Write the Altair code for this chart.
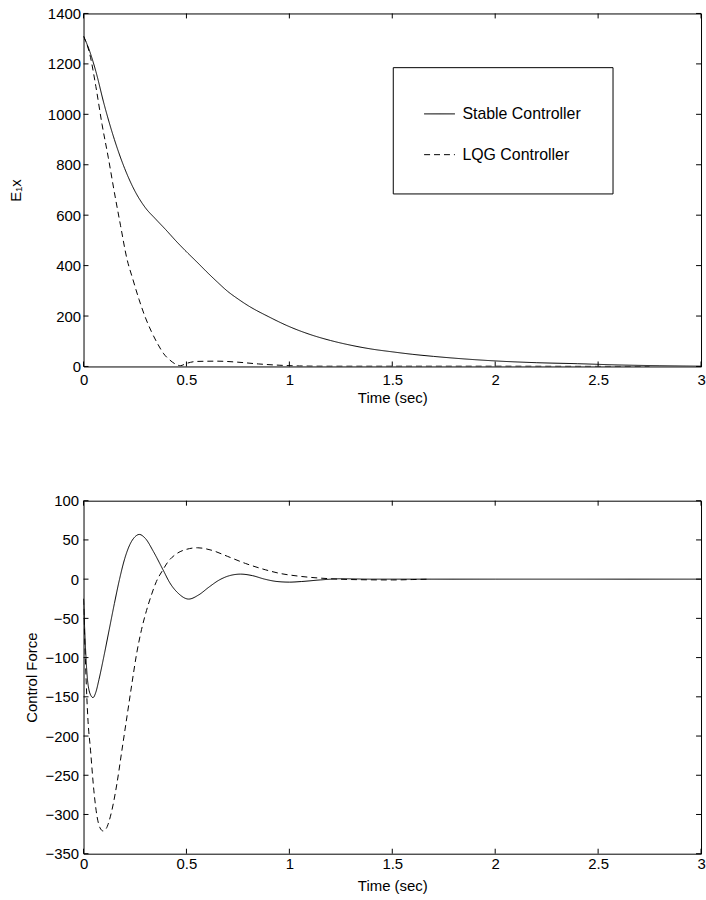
import altair as alt
import pandas as pd

FONT = "Liberation Sans"
SERIES = ["Stable Controller", "LQG Controller"]

# ---- top panel: E1x ----
top_stable_t = [0, 0.03, 0.06, 0.1, 0.15, 0.2, 0.25, 0.3, 0.35, 0.4, 0.45, 0.5, 0.55, 0.6, 0.65,
                0.7, 0.75, 0.8, 0.9, 1.0, 1.1, 1.2, 1.3, 1.4, 1.5, 1.6, 1.7, 1.8, 1.9, 2.0,
                2.2, 2.4, 2.6, 2.8, 3.0]
top_stable_v = [1310, 1250, 1170, 1040, 900, 785, 695, 630, 585, 542, 497, 455, 415, 374, 335,
                298, 268, 241, 197, 158, 127, 103, 84, 69, 58, 48, 40, 33, 27, 22,
                15, 11, 6, 3, 1]

top_lqg_t = [0, 0.03, 0.06, 0.09, 0.12, 0.15, 0.18, 0.21, 0.24, 0.27, 0.3, 0.33, 0.36, 0.39,
             0.42, 0.45, 0.47, 0.5, 0.55, 0.65, 0.75, 0.85, 0.95, 1.05, 1.2, 1.5, 2.0, 2.4, 2.75]
top_lqg_v = [1310, 1240, 1110, 960, 830, 690, 558, 430, 345, 265, 195, 138, 90, 50,
             25, 8, 3, 12, 20, 21, 17, 10, 5, 2, 1, 1, 1, 0.5, 0]

# ---- bottom panel: Control Force ----
bot_stable_t = [0, 0.01, 0.02, 0.035, 0.046, 0.06, 0.075, 0.1, 0.125, 0.15, 0.175, 0.2, 0.225,
                0.25, 0.271, 0.3, 0.34, 0.386, 0.42, 0.46, 0.511, 0.56, 0.61, 0.66, 0.71, 0.763,
                0.82, 0.88, 0.94, 1.0, 1.06, 1.15, 1.25, 1.4, 2.0, 3.0]
bot_stable_v = [-25, -90, -130, -148, -151, -144, -128, -97, -64, -31, 0, 26, 44,
                54, 57, 52, 35, 12, -5, -18, -25.4, -20, -10, -1, 4.5, 6.4,
                4.5, 0, -3, -3.8, -3, -1, 0.5, 0, 0, 0]

bot_lqg_t = [0, 0.01, 0.021, 0.034, 0.05, 0.066, 0.08, 0.095, 0.11, 0.13, 0.162, 0.186, 0.21,
             0.234, 0.258, 0.282, 0.306, 0.33, 0.354, 0.386, 0.41, 0.45, 0.5, 0.554, 0.62,
             0.7, 0.787, 0.883, 0.96, 1.04, 1.2, 1.3, 1.5, 1.6, 1.686]
bot_lqg_v = [-25, -110, -177, -218, -269, -303, -317, -321, -318, -303, -261, -219, -177,
             -135, -95, -64, -40, -20, -3, 12, 22, 32, 38, 40, 37,
             29, 20, 12, 7, 4, 0.5, -0.5, -1, -0.5, 0]

x_ticks = [0, 0.5, 1, 1.5, 2, 2.5, 3]
top_y_ticks = [0, 200, 400, 600, 800, 1000, 1200, 1400]
bot_y_ticks = [-350, -300, -250, -200, -150, -100, -50, 0, 50, 100]

W, H = 621, 355
TICK = 5


def frame(t, v, name):
    return pd.DataFrame({"t": t, "v": v, "series": name})


def panel(stable_t, stable_v, lqg_t, lqg_v, y_ticks, y_title, y_label_pad, y_title_pad,
          x_label_pad, x_title_pad, show_legend):
    data = pd.concat([frame(stable_t, stable_v, SERIES[0]), frame(lqg_t, lqg_v, SERIES[1])])
    xs = alt.Scale(domain=[0, 3], nice=False, zero=False)
    ys = alt.Scale(domain=[min(y_ticks), max(y_ticks)], nice=False, zero=False)
    x_axis = alt.Axis(values=x_ticks, format="~g", title="Time (sec)",
                      labelPadding=x_label_pad, titlePadding=x_title_pad)
    y_axis = alt.Axis(values=y_ticks, format="d", title=y_title,
                      labelPadding=y_label_pad, titlePadding=y_title_pad)
    X = alt.X("t:Q", scale=xs, axis=x_axis)
    Y = alt.Y("v:Q", scale=ys, axis=y_axis)

    if show_legend:
        legend = alt.Legend(
            title=None, orient="none", legendX=311, legendY=54,
            strokeColor="black", padding=31, fillColor="white",
            symbolType="stroke", symbolSize=961, symbolStrokeWidth=1, symbolStrokeColor="black",
            labelFont=FONT, labelFontSize=16, labelColor="black", labelOffset=7,
            rowPadding=17, labelLimit=300,
        )
    else:
        legend = None

    lines = alt.Chart(data).mark_line(color="black", strokeWidth=1, clip=True, interpolate="monotone").encode(
        x=X, y=Y,
        strokeDash=alt.StrokeDash("series:N", scale=alt.Scale(domain=SERIES, range=[[1, 0], [6, 4]]),
                                  legend=legend),
        detail="series:N",
    )

    xt = pd.DataFrame({"t": x_ticks})
    yt = pd.DataFrame({"v": y_ticks})
    tick_style = dict(color="black", strokeWidth=1)
    xb = alt.Chart(xt).mark_rule(**tick_style).encode(x=X, y=alt.value(H - TICK), y2=alt.value(H))
    xtop = alt.Chart(xt).mark_rule(**tick_style).encode(x=X, y=alt.value(0), y2=alt.value(TICK))
    yl = alt.Chart(yt).mark_rule(**tick_style).encode(y=Y, x=alt.value(0), x2=alt.value(TICK))
    yr = alt.Chart(yt).mark_rule(**tick_style).encode(y=Y, x=alt.value(W - TICK), x2=alt.value(W))

    return alt.layer(lines, xb, xtop, yl, yr).properties(width=W, height=H)


top = panel(top_stable_t, top_stable_v, top_lqg_t, top_lqg_v, top_y_ticks, "E₁x", 3, 24, 6, 3, True)
bottom = panel(bot_stable_t, bot_stable_v, bot_lqg_t, bot_lqg_v, bot_y_ticks, "Control Force", 5, 6, 3, 7, False)

chart = alt.vconcat(top, bottom, spacing=87).resolve_scale(
    strokeDash="independent", x="independent", y="independent"
).resolve_legend(strokeDash="independent").properties(
    padding={"left": 8, "top": 3, "right": 0, "bottom": 0},
    background="white",
).configure_view(
    stroke="black", strokeWidth=1
).configure_axis(
    labelFont=FONT, labelFontSize=15, labelColor="black",
    titleFont=FONT, titleFontSize=15, titleFontWeight="normal", titleColor="black",
    ticks=False, domain=False, grid=False, labelFlush=False, labelOverlap=False,
)

chart.save("out.html", embed_options={"renderer": "svg", "actions": False})
